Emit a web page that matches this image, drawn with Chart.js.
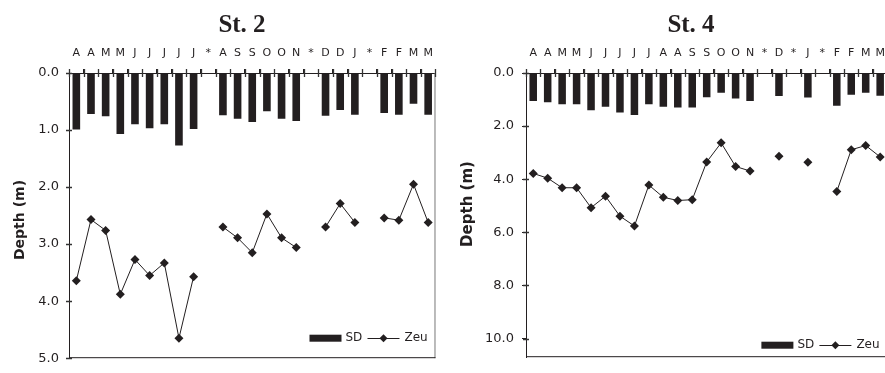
<!DOCTYPE html>
<html>
<head>
<meta charset="utf-8">
<script src="https://cdn.jsdelivr.net/npm/chart.js@4"></script>
<style>
  html, body { margin: 0; padding: 0; background: #fff; }
  body { width: 885px; height: 373px; overflow: hidden; position: relative; }
  canvas { position: absolute; top: 0; }
  #st2 { left: 0; }
  #st4 { left: 442px; }
</style>
</head>
<body>
<canvas id="st2" width="442" height="373"></canvas>
<canvas id="st4" width="452" height="373"></canvas>
<script>
// St. 2
const months2 = ['A','A','M','M','J','J','J','J','J','*','A','S','S','O','O','N','*','D','D','J','*','F','F','M','M'];
const sd2  = [0.99,0.72,0.76,1.07,0.90,0.97,0.90,1.27,0.98,null,0.74,0.80,0.86,0.67,0.80,0.84,null,0.75,0.65,0.73,null,0.70,0.73,0.54,0.73];
const zeu2 = [3.64,2.57,2.76,3.88,3.27,3.55,3.33,4.65,3.57,null,2.70,2.89,3.15,2.47,2.89,3.06,null,2.70,2.29,2.62,null,2.54,2.58,1.95,2.62];
const yTicks2 = [0, 1, 2, 3, 4, 5];

// St. 4
const months4 = ['A','A','M','M','J','J','J','J','J','A','A','S','S','O','O','N','*','D','*','J','*','F','F','M','M'];
const sd4  = [1.05,1.10,1.18,1.18,1.40,1.27,1.49,1.58,1.18,1.27,1.30,1.30,0.91,0.74,0.96,1.05,null,0.87,null,0.92,null,1.23,0.82,0.74,0.86];
const zeu4 = [3.78,3.96,4.32,4.32,5.07,4.64,5.39,5.76,4.22,4.68,4.80,4.77,3.35,2.63,3.52,3.69,null,3.13,null,3.36,null,4.46,2.89,2.73,3.16];
const yTicks4 = [0, 2, 4, 6, 8, 10];

const yLabel = 'Depth (m)';
const ink = '#231f20';

// frame, tick marks crossing the axes, panel title, axis title and legend
const framePlugin = {
    id: 'frame',
    afterDraw(chart, args, o) {
        const { ctx, chartArea: a, scales: { x, y } } = chart;
        ctx.save();
        ctx.lineWidth = 1;
        ctx.strokeStyle = '#777';
        ctx.beginPath();
        ctx.moveTo(a.right - 0.5, a.top); ctx.lineTo(a.right - 0.5, a.bottom);
        ctx.stroke();
        ctx.strokeStyle = ink;
        ctx.beginPath();
        ctx.moveTo(a.left, a.bottom - 0.5); ctx.lineTo(a.right, a.bottom - 0.5);
        ctx.stroke();

        ctx.strokeStyle = '#333';
        ctx.lineWidth = 1.3;
        ctx.beginPath();
        const n = x.ticks.length, step = (a.right - a.left) / n;
        for (let i = 0; i <= n; i++) {
            const px = Math.round(a.left + i * step) + 0.5;
            ctx.moveTo(px, a.top - 4); ctx.lineTo(px, a.top + 4);
        }
        y.ticks.forEach(t => {
            const py = Math.round(y.getPixelForValue(t.value)) + 0.5;
            ctx.moveTo(a.left - 3, py); ctx.lineTo(a.left + 3, py);
        });
        ctx.stroke();
        ctx.lineWidth = 1;
        ctx.strokeStyle = ink;

        ctx.fillStyle = ink;
        ctx.font = 'bold 25px "Liberation Serif"';
        ctx.textAlign = 'center';
        ctx.textBaseline = 'alphabetic';
        ctx.fillText(o.title, o.titleX, 32);

        ctx.save();
        ctx.translate(o.yTitleX, o.yTitleY);
        ctx.rotate(-Math.PI / 2);
        ctx.font = 'bold ' + o.yTitleSize + 'px "DejaVu Sans"';
        ctx.textBaseline = 'middle';
        ctx.fillText(yLabel, 0, 0);
        ctx.restore();

        const bar = chart.data.datasets.find(d => d.type === 'bar');
        const line = chart.data.datasets.find(d => d.type === 'line');
        const x0 = a.right - 126, ly = a.bottom - o.legendBottom;
        ctx.fillStyle = bar.backgroundColor;
        ctx.fillRect(x0, ly - 3.5, 32, 7);
        ctx.fillStyle = ink;
        ctx.font = '12px "DejaVu Sans"';
        ctx.textAlign = 'left';
        ctx.textBaseline = 'middle';
        ctx.fillText(bar.label, x0 + 36, ly);
        ctx.fillText(line.label, x0 + 95, ly);
        ctx.beginPath();
        ctx.moveTo(x0 + 58, Math.round(ly) + 0.5); ctx.lineTo(x0 + 90, Math.round(ly) + 0.5);
        ctx.stroke();
        ctx.beginPath();
        ctx.moveTo(x0 + 74, ly - 4); ctx.lineTo(x0 + 78, ly);
        ctx.lineTo(x0 + 74, ly + 4); ctx.lineTo(x0 + 70, ly);
        ctx.closePath();
        ctx.fill();
        ctx.restore();
    }
};

function makePanel(id, labels, sd, zeu, ticks, yMax, cfg) {
    new Chart(document.getElementById(id), {
        type: 'bar',
        data: {
            labels: labels,
            datasets: [{
                type: 'line',
                label: 'Zeu',
                data: zeu,
                borderColor: ink,
                borderWidth: 1,
                backgroundColor: ink,
                pointStyle: 'rectRot',
                pointRadius: 4.5,
                pointBackgroundColor: ink,
                pointBorderWidth: 0,
                tension: 0,
                spanGaps: false
            }, {
                type: 'bar',
                label: 'SD',
                data: sd,
                backgroundColor: ink,
                barPercentage: 0.52,
                categoryPercentage: 1
            }]
        },
        options: {
            responsive: false,
            animation: false,
            events: [],
            layout: { padding: cfg.padding },
            scales: {
                x: {
                    position: 'top',
                    offset: true,
                    grid: { offset: true, drawOnChartArea: false, tickLength: 4, color: ink },
                    border: { color: ink },
                    ticks: {
                        autoSkip: false, maxRotation: 0, padding: 9, color: ink,
                        font: { family: 'DejaVu Sans', size: 11 }
                    },
                    afterFit: s => { s.height = 73; }
                },
                y: {
                    reverse: true,
                    min: 0,
                    max: yMax,
                    grid: { drawOnChartArea: false, tickLength: cfg.tick, color: ink },
                    border: { color: ink },
                    ticks: {
                        padding: cfg.tickPad, color: ink,
                        font: { family: 'DejaVu Sans', size: 13 },
                        callback: v => v.toFixed(1)
                    },
                    afterBuildTicks: s => { s.ticks = ticks.map(v => ({ value: v })); },
                    afterFit: s => { s.width = cfg.axisWidth; }
                }
            },
            plugins: {
                legend: { display: false },
                tooltip: { enabled: false },
                frame: cfg.frame
            }
        },
        plugins: [framePlugin]
    });
}

makePanel('st2', months2, sd2, zeu2, yTicks2, 5, {
    padding: { left: 0, right: 2, top: 0, bottom: 4 },
    axisWidth: 69, tick: 3, tickPad: 7,
    frame: { title: 'St. 2', titleX: 242, yTitleX: 20, yTitleY: 220, yTitleSize: 14, legendBottom: 20 }
});

makePanel('st4', months4, sd4, zeu4, yTicks4, 10.7, {
    padding: { left: 0, right: 4, top: 0, bottom: 10.5 },
    axisWidth: 84, tick: 4, tickPad: 8,
    frame: { title: 'St. 4', titleX: 249, yTitleX: 26, yTitleY: 204, yTitleSize: 15, legendBottom: 12 }
});
</script>
</body>
</html>
